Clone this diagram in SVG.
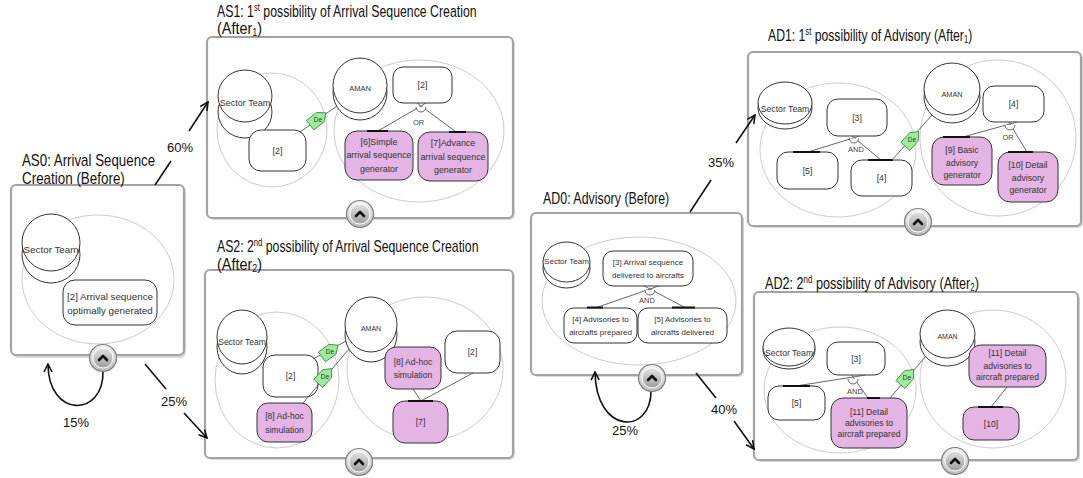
<svg xmlns="http://www.w3.org/2000/svg" xmlns:xlink="http://www.w3.org/1999/xlink" width="1083" height="478" viewBox="0 0 1083 478">
<defs>
<style>
.panel{fill:#fff;stroke:#a3a3a3;stroke-width:2.2}
.shadow{fill:#d9d9d9}
.bound{fill:none;stroke:#cccccc;stroke-width:1}
.actor{fill:#fff;stroke:#333;stroke-width:1}
.goal{fill:#fff;stroke:#333;stroke-width:1}
.task{fill:#e4b4e4;stroke:#333;stroke-width:1}
.lnk{stroke:#555;stroke-width:0.9;fill:none}
.bar{stroke:#111;stroke-width:2;fill:none}
.arc{stroke:#555;stroke-width:0.9;fill:#fff}
.t{font-family:"Liberation Sans",Arial,sans-serif;fill:#333;text-anchor:middle}
.small{font-family:"Liberation Sans",Arial,sans-serif;fill:#444;text-anchor:middle;font-size:7.5px}
.title{font-family:"Liberation Sans",Arial,sans-serif;font-size:16px;fill:#111}
.pct{font-family:"Liberation Sans",Arial,sans-serif;font-size:13px;fill:#111}
.arrow{stroke:#111;stroke-width:1.6;fill:none}
.de{fill:#9aee9a;stroke:#3f7f3f;stroke-width:0.8}
.detxt{font-family:"Liberation Sans",Arial,sans-serif;font-size:6.5px;fill:#333;text-anchor:middle}
</style>
<marker id="ah" viewBox="0 0 10 10" refX="9" refY="5" markerWidth="10" markerHeight="10" markerUnits="userSpaceOnUse" orient="auto">
<path d="M1,1 L9,5 L1,9" fill="none" stroke="#111" stroke-width="1.6"/>
</marker>
<linearGradient id="gOuter" x1="0" y1="0" x2="0" y2="1">
<stop offset="0" stop-color="#f4f4f4"/><stop offset="1" stop-color="#bdbdbd"/>
</linearGradient>
<linearGradient id="gInner" x1="0" y1="0" x2="0" y2="1">
<stop offset="0" stop-color="#e2e2e2"/><stop offset="1" stop-color="#9c9c9c"/>
</linearGradient>
<g id="btn">
<circle r="13.5" fill="url(#gOuter)" stroke="#7d7d7d" stroke-width="1.2"/>
<circle r="10" fill="url(#gInner)" stroke="#fff" stroke-width="1"/>
<path d="M-4,2 L0,-2 L4,2" fill="none" stroke="#111" stroke-width="2.6" stroke-linecap="round" stroke-linejoin="round"/>
</g>
<polygon id="deShape" class="de" points="-10,-6 3,-6 10,0 3,6 -10,6"/>
</defs>

<rect width="1083" height="478" fill="#fff"/>

<!-- ================= panels ================= -->
<g id="panel-AS0">
<rect class="shadow" x="13" y="187" width="173" height="171" rx="5"/>
<rect class="panel" x="11" y="185" width="173" height="170" rx="5"/>
<ellipse class="bound" cx="98" cy="279.5" rx="76" ry="64.5"/>
<text class="title" transform="translate(22,166) scale(0.832,1)">AS0: Arrival Sequence</text>
<text class="title" transform="translate(22,184) scale(0.839,1)">Creation (Before)</text>
</g>

<g id="panel-AS1">
<rect class="shadow" x="209" y="39" width="306" height="181" rx="5"/>
<rect class="panel" x="207" y="37" width="306" height="181" rx="5"/>
<ellipse class="bound" cx="272" cy="130" rx="55" ry="57"/>
<ellipse class="bound" cx="419" cy="131" rx="85" ry="71"/>
<text class="title" transform="translate(217,17) scale(0.769,1)">AS1: 1<tspan font-size="10" dy="-6">st</tspan><tspan dy="6"> possibility of Arrival Sequence Creation</tspan></text>
<text class="title" transform="translate(217,34) scale(0.9,1)">(After<tspan font-size="10" dy="2">1</tspan><tspan dy="-2">)</tspan></text>
</g>

<g id="panel-AS2">
<rect class="shadow" x="207" y="272" width="308" height="188" rx="5"/>
<rect class="panel" x="205" y="270" width="308" height="188" rx="5"/>
<ellipse class="bound" cx="277" cy="380" rx="62" ry="68"/>
<ellipse class="bound" cx="425" cy="369" rx="78" ry="72"/>
<text class="title" transform="translate(217,252) scale(0.767,1)">AS2: 2<tspan font-size="10" dy="-6">nd</tspan><tspan dy="6"> possibility of Arrival Sequence Creation</tspan></text>
<text class="title" transform="translate(217,270) scale(0.9,1)">(After<tspan font-size="10" dy="2">2</tspan><tspan dy="-2">)</tspan></text>
</g>

<g id="panel-AD0">
<rect class="shadow" x="533" y="215" width="211" height="162" rx="5"/>
<rect class="panel" x="531" y="213" width="211" height="162" rx="5"/>
<ellipse class="bound" cx="639" cy="301" rx="97" ry="64"/>
<text class="title" transform="translate(543,204) scale(0.776,1)">AD0: Advisory (Before)</text>
</g>

<g id="panel-AD1">
<rect class="shadow" x="750" y="54" width="333" height="174" rx="5"/>
<rect class="panel" x="748" y="52" width="333" height="174" rx="5"/>
<ellipse class="bound" cx="838" cy="150" rx="78" ry="67"/>
<ellipse class="bound" cx="998" cy="138" rx="78" ry="78"/>
<text class="title" transform="translate(768,41) scale(0.764,1)">AD1: 1<tspan font-size="10" dy="-6">st</tspan><tspan dy="6"> possibility of Advisory (After</tspan><tspan font-size="10" dy="2">1</tspan><tspan dy="-2">)</tspan></text>
</g>

<g id="panel-AD2">
<rect class="shadow" x="756" y="294" width="324" height="168" rx="5"/>
<rect class="panel" x="754" y="292" width="324" height="168" rx="5"/>
<ellipse class="bound" cx="840" cy="390" rx="76" ry="63"/>
<ellipse class="bound" cx="993" cy="379" rx="73" ry="69"/>
<text class="title" transform="translate(765,289) scale(0.79,1)">AD2: 2<tspan font-size="10" dy="-6">nd</tspan><tspan dy="6"> possibility of Advisory (After</tspan><tspan font-size="10" dy="2">2</tspan><tspan dy="-2">)</tspan></text>
</g>

<!-- ================= nodes ================= -->
<!-- AS0 -->
<g id="AS0-sector-team">
<ellipse class="actor" cx="51" cy="254.5" rx="29" ry="28.5"/>
<ellipse class="actor" cx="51" cy="242.5" rx="29" ry="28.5"/>
<text class="t" x="51" y="253" font-size="9.8">Sector Team</text>
</g>
<g id="AS0-goal2">
<rect class="goal" x="63" y="280" width="94" height="45" rx="12"/>
<text class="t" x="110" y="299.5" font-size="9.8">[2] Arrival sequence</text>
<text class="t" x="110" y="313.5" font-size="9.8">optimally generated</text>
</g>

<!-- AS1 -->
<g id="AS1-sector-team">
<ellipse class="actor" cx="245" cy="112" rx="27" ry="26"/>
<ellipse class="actor" cx="245" cy="96" rx="27" ry="26"/>
<text class="t" x="245" y="106" font-size="9">Sector Team</text>
</g>
<g id="AS1-aman">
<ellipse class="actor" cx="360" cy="92.5" rx="27" ry="27.5"/>
<ellipse class="actor" cx="360" cy="85.5" rx="27" ry="27.5"/>
<text class="t" x="360" y="91" font-size="7.5">AMAN</text>
</g>
<g id="AS1-goal2-left">
<rect class="goal" x="249" y="130" width="57" height="41" rx="12"/>
<text class="t" x="277.5" y="154" font-size="9">[2]</text>
</g>
<g id="AS1-goal2-right">
<rect class="goal" x="393" y="67" width="59" height="36" rx="10"/>
<text class="t" x="422.5" y="88" font-size="9">[2]</text>
</g>
<g id="AS1-task6">
<rect class="task" x="345" y="131" width="68" height="49" rx="12"/>
<text class="t" x="379" y="144.5" font-size="8.9">[6]Simple</text>
<text class="t" x="379" y="158" font-size="8.9">arrival sequence</text>
<text class="t" x="379" y="171.5" font-size="8.9">generator</text>
</g>
<g id="AS1-task7">
<rect class="task" x="418" y="132" width="70" height="49" rx="12"/>
<text class="t" x="453" y="146" font-size="8.9">[7]Advance</text>
<text class="t" x="453" y="159.5" font-size="8.9">arrival sequence</text>
<text class="t" x="453" y="173" font-size="8.9">generator</text>
</g>

<!-- AS2 -->
<g id="AS2-sector-team">
<ellipse class="actor" cx="242" cy="347" rx="25" ry="27"/>
<ellipse class="actor" cx="242" cy="337" rx="25" ry="27"/>
<text class="t" x="242" y="345" font-size="8.5">Sector Team</text>
</g>
<g id="AS2-aman">
<ellipse class="actor" cx="371" cy="334.5" rx="26" ry="27.5"/>
<ellipse class="actor" cx="371" cy="324.5" rx="26" ry="27.5"/>
<text class="t" x="371" y="331" font-size="7">AMAN</text>
</g>
<g id="AS2-goal2-left">
<rect class="goal" x="263" y="355" width="55" height="42" rx="12"/>
<text class="t" x="290.5" y="379" font-size="8.6">[2]</text>
</g>
<g id="AS2-task8-left">
<rect class="task" x="257" y="403" width="55" height="39" rx="11"/>
<text class="t" x="284.5" y="419" font-size="8.6">[8] Ad-hoc</text>
<text class="t" x="284.5" y="432.5" font-size="8.6">simulation</text>
</g>
<g id="AS2-task8-right">
<rect class="task" x="385" y="347" width="56" height="42" rx="11"/>
<text class="t" x="413" y="364.5" font-size="8.6">[8] Ad-hoc</text>
<text class="t" x="413" y="378" font-size="8.6">simulation</text>
</g>
<g id="AS2-goal2-right">
<rect class="goal" x="445" y="331" width="55" height="42" rx="12"/>
<text class="t" x="472.5" y="355" font-size="8.6">[2]</text>
</g>
<g id="AS2-task7">
<rect class="task" x="393" y="401" width="55" height="42" rx="12"/>
<text class="t" x="420.5" y="425" font-size="8.6">[7]</text>
</g>

<!-- AD0 -->
<g id="AD0-sector-team">
<ellipse class="actor" cx="566.5" cy="268" rx="23.5" ry="20"/>
<ellipse class="actor" cx="566.5" cy="262" rx="23.5" ry="20"/>
<text class="t" x="566.5" y="264" font-size="8">Sector Team</text>
</g>
<g id="AD0-goal3">
<rect class="goal" x="603" y="251" width="90" height="35" rx="10"/>
<text class="t" x="648" y="265" font-size="8">[3] Arrival sequence</text>
<text class="t" x="648" y="277.5" font-size="8">delivered to aircrafts</text>
</g>
<g id="AD0-goal4">
<rect class="goal" x="564" y="308" width="73" height="35" rx="10"/>
<text class="t" x="600.5" y="321.5" font-size="8">[4] Advisories to</text>
<text class="t" x="600.5" y="334.5" font-size="8">aircrafts prepared</text>
</g>
<g id="AD0-goal5">
<rect class="goal" x="638" y="308" width="89" height="35" rx="10"/>
<text class="t" x="682.5" y="321.5" font-size="8">[5] Advisories to</text>
<text class="t" x="682.5" y="334.5" font-size="8">aircrafts delivered</text>
</g>

<!-- AD1 -->
<g id="AD1-sector-team">
<ellipse class="actor" cx="785" cy="108" rx="27" ry="21"/>
<ellipse class="actor" cx="785" cy="103" rx="27" ry="21"/>
<text class="t" x="785" y="112" font-size="8.7">Sector Team</text>
</g>
<g id="AD1-aman">
<ellipse class="actor" cx="952" cy="97" rx="28" ry="26"/>
<ellipse class="actor" cx="952" cy="89" rx="28" ry="26"/>
<text class="t" x="952" y="97" font-size="7.3">AMAN</text>
</g>
<g id="AD1-goal3">
<rect class="goal" x="827" y="99" width="60" height="37" rx="11"/>
<text class="t" x="857" y="121" font-size="8.7">[3]</text>
</g>
<g id="AD1-goal4-top">
<rect class="goal" x="983" y="86" width="61" height="36" rx="11"/>
<text class="t" x="1013.5" y="107" font-size="8.7">[4]</text>
</g>
<g id="AD1-goal5">
<rect class="goal" x="777" y="152" width="61" height="37" rx="11"/>
<text class="t" x="807.5" y="173.5" font-size="8.7">[5]</text>
</g>
<g id="AD1-goal4-bottom">
<rect class="goal" x="851" y="160" width="61" height="36" rx="11"/>
<text class="t" x="881.5" y="181" font-size="8.7">[4]</text>
</g>
<g id="AD1-task9">
<rect class="task" x="932" y="137" width="60" height="48" rx="12"/>
<text class="t" x="962" y="153" font-size="8.7">[9] Basic</text>
<text class="t" x="962" y="165.7" font-size="8.7">advisory</text>
<text class="t" x="962" y="178" font-size="8.7">generator</text>
</g>
<g id="AD1-task10">
<rect class="task" x="998" y="152" width="60" height="50" rx="12"/>
<text class="t" x="1028" y="168" font-size="8.7">[10] Detail</text>
<text class="t" x="1028" y="180.7" font-size="8.7">advisory</text>
<text class="t" x="1028" y="193" font-size="8.7">generator</text>
</g>

<!-- AD2 -->
<g id="AD2-sector-team">
<ellipse class="actor" cx="789" cy="350" rx="26" ry="19"/>
<ellipse class="actor" cx="789" cy="347" rx="26" ry="19"/>
<text class="t" x="789" y="356" font-size="8.6">Sector Team</text>
</g>
<g id="AD2-aman">
<ellipse class="actor" cx="947.5" cy="342" rx="27.5" ry="24"/>
<ellipse class="actor" cx="947.5" cy="334" rx="27.5" ry="24"/>
<text class="t" x="947.5" y="339" font-size="7">AMAN</text>
</g>
<g id="AD2-goal3">
<rect class="goal" x="827" y="342" width="58" height="33" rx="11"/>
<text class="t" x="856" y="362" font-size="8.6">[3]</text>
</g>
<g id="AD2-task11-top">
<rect class="task" x="969" y="345" width="77" height="42" rx="12"/>
<text class="t" x="1007.5" y="356" font-size="8.6">[11] Detail</text>
<text class="t" x="1007.5" y="369" font-size="8.6">advisories to</text>
<text class="t" x="1007.5" y="380" font-size="8.6">aircraft prepared</text>
</g>
<g id="AD2-task10">
<rect class="task" x="963" y="407" width="56" height="33" rx="11"/>
<text class="t" x="991" y="427" font-size="8.6">[10]</text>
</g>
<g id="AD2-goal5">
<rect class="goal" x="768" y="386" width="57" height="34" rx="11"/>
<text class="t" x="796.5" y="406" font-size="8.6">[5]</text>
</g>
<g id="AD2-task11-bottom">
<rect class="task" x="831" y="398" width="76" height="50" rx="12"/>
<text class="t" x="869" y="415" font-size="8.6">[11] Detail</text>
<text class="t" x="869" y="426" font-size="8.6">advisories to</text>
<text class="t" x="869" y="437" font-size="8.6">aircraft prepared</text>
</g>

<!-- ================= connectors ================= -->
<g id="connectors">
<!-- AS1 OR decomposition -->
<line class="lnk" x1="378" y1="131" x2="426" y2="103"/>
<line class="lnk" x1="456" y1="132" x2="417" y2="103"/>
<path class="arc" d="M416,107 A5,5 0 0 0 426,107"/>
<text class="small" x="418.5" y="124.5">OR</text>
<line class="bar" x1="367" y1="131" x2="388" y2="131"/>
<line class="bar" x1="449" y1="132" x2="466" y2="132"/>
<!-- AS1 dependency -->
<line class="lnk" x1="300" y1="132" x2="337" y2="106"/>
<use xlink:href="#deShape" transform="translate(318,119) rotate(-38)"/>
<text class="detxt" x="318" y="121.5">De</text>

<!-- AS2 dependencies -->
<line class="lnk" x1="313" y1="359" x2="346" y2="341"/>
<use xlink:href="#deShape" transform="translate(330,351) rotate(-36)"/>
<text class="detxt" x="330" y="353.5">De</text>
<line class="lnk" x1="303" y1="403" x2="349" y2="349"/>
<use xlink:href="#deShape" transform="translate(325,376) rotate(-48)"/>
<text class="detxt" x="325" y="378.5">De</text>
<!-- AS2 means-end to [7] -->
<line class="lnk" x1="413" y1="389" x2="421" y2="401"/>
<line class="lnk" x1="473" y1="373" x2="421" y2="401"/>
<line class="bar" x1="408" y1="401" x2="433" y2="401"/>

<!-- AD0 AND decomposition -->
<line class="lnk" x1="598" y1="307" x2="658.7" y2="286"/>
<line class="lnk" x1="684" y1="307" x2="644.3" y2="286"/>
<path class="arc" d="M645,290 A5,5 0 0 0 655,290"/>
<text class="small" x="647" y="303">AND</text>
<line class="bar" x1="587" y1="307.5" x2="603" y2="307.5"/>
<line class="bar" x1="672" y1="307.5" x2="695" y2="307.5"/>

<!-- AD1 AND decomposition -->
<line class="lnk" x1="808" y1="152" x2="859.6" y2="136"/>
<line class="lnk" x1="881" y1="160" x2="852" y2="136"/>
<path class="arc" d="M849.5,138.5 A4.5,4.5 0 0 0 858.5,138.5"/>
<text class="small" x="856" y="152">AND</text>
<line class="bar" x1="793" y1="152" x2="820" y2="152"/>
<line class="bar" x1="868" y1="160" x2="893" y2="160"/>
<!-- AD1 OR decomposition -->
<line class="lnk" x1="963" y1="137" x2="1017" y2="122"/>
<line class="lnk" x1="1027" y1="152" x2="1008.8" y2="122"/>
<path class="arc" d="M1005,125 A5,5 0 0 0 1015,125"/>
<text class="small" x="1008" y="139.5">OR</text>
<line class="bar" x1="943" y1="137" x2="970" y2="137"/>
<line class="bar" x1="1008" y1="152" x2="1033" y2="152"/>
<!-- AD1 dependency -->
<line class="lnk" x1="892" y1="160" x2="932" y2="115"/>
<use xlink:href="#deShape" transform="translate(912,139) rotate(-48)"/>
<text class="detxt" x="912" y="141.5">De</text>

<!-- AD2 AND decomposition -->
<line class="lnk" x1="796" y1="386" x2="865.7" y2="375"/>
<line class="lnk" x1="868" y1="398" x2="851.6" y2="375"/>
<path class="arc" d="M848,379 A5,5 0 0 0 858,379"/>
<text class="small" x="855" y="393.5">AND</text>
<line class="bar" x1="783" y1="386" x2="810" y2="386"/>
<line class="bar" x1="867" y1="398" x2="880" y2="398"/>
<!-- AD2 means-end -->
<line class="lnk" x1="1007" y1="387" x2="991" y2="407"/>
<line class="bar" x1="978" y1="407" x2="1003" y2="407"/>
<!-- AD2 dependency -->
<line class="lnk" x1="890" y1="398" x2="926" y2="356"/>
<use xlink:href="#deShape" transform="translate(907,377) rotate(-49)"/>
<text class="detxt" x="907" y="379.5">De</text>

<!-- transitions between panels -->
<line class="arrow" x1="155" y1="185" x2="171" y2="161"/>
<line class="arrow" x1="189" y1="131" x2="208" y2="102" marker-end="url(#ah)"/>
<text class="pct" x="167" y="152">60%</text>
<line class="arrow" x1="145" y1="364" x2="166" y2="389"/>
<line class="arrow" x1="184" y1="413" x2="207" y2="438" marker-end="url(#ah)"/>
<text class="pct" x="161" y="406">25%</text>
<path class="arrow" d="M103,371 C104,418 48,418 48,364" marker-end="url(#ah)"/>
<text class="pct" x="63" y="427">15%</text>
<line class="arrow" x1="690" y1="212" x2="711" y2="180"/>
<line class="arrow" x1="736" y1="143" x2="755" y2="115" marker-end="url(#ah)"/>
<text class="pct" x="708" y="167">35%</text>
<line class="arrow" x1="696" y1="373" x2="716" y2="398"/>
<line class="arrow" x1="734" y1="421" x2="754" y2="449" marker-end="url(#ah)"/>
<text class="pct" x="711" y="414">40%</text>
<path class="arrow" d="M651,391 C651,435 596,435 595,372" marker-end="url(#ah)"/>
<text class="pct" x="612" y="435">25%</text>
</g>

<!-- expand buttons -->
<g id="buttons">
<use xlink:href="#btn" x="103" y="358"/>
<use xlink:href="#btn" x="360" y="214"/>
<use xlink:href="#btn" x="359" y="462"/>
<use xlink:href="#btn" x="652" y="378"/>
<use xlink:href="#btn" x="918" y="222"/>
<use xlink:href="#btn" x="955" y="461"/>
</g>
</svg>
